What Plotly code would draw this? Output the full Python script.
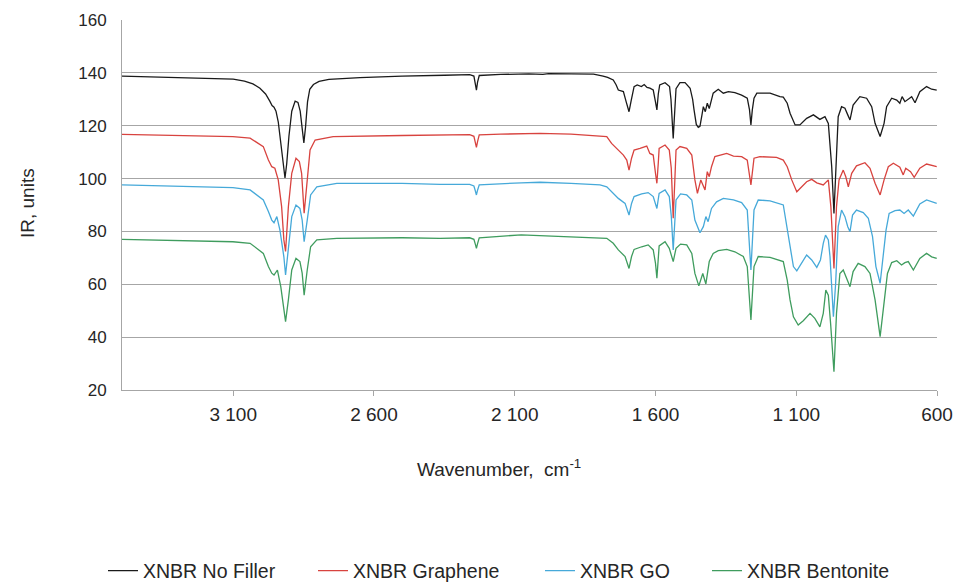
import plotly.graph_objects as go

# FTIR spectra of XNBR compounds (wavenumber in cm-1, IR in arbitrary units)
wn_nofiller = [3495, 3400, 3300, 3200, 3100, 3060, 3030, 3005, 2985, 2970, 2962, 2955, 2948, 2940,
               2932, 2924, 2916, 2910, 2902, 2892, 2880, 2870, 2862, 2855, 2849, 2843, 2836, 2828,
               2815, 2795, 2760, 2650, 2500, 2350, 2260, 2245, 2240, 2236, 2232, 2226, 2150, 2050,
               2000, 1980, 1900, 1820, 1786, 1770, 1750, 1740, 1732, 1722, 1714, 1704, 1694, 1686,
               1676, 1665, 1650, 1640, 1630, 1620, 1608, 1600, 1595, 1590, 1585, 1566, 1550, 1545,
               1540, 1537, 1534, 1527, 1513, 1495, 1477, 1468, 1463, 1455, 1448, 1442, 1435, 1430,
               1423, 1416, 1409, 1395, 1377, 1359, 1341, 1318, 1294, 1274, 1266, 1261, 1256, 1250,
               1240, 1193, 1158, 1146, 1132, 1122, 1104, 1087, 1063, 1039, 1016, 998, 986, 974,
               966, 959, 951, 939, 927, 917, 909, 898, 874, 850, 832, 820, 802, 788, 779, 761,
               743, 732, 724, 714, 702, 690, 678, 661, 637, 619, 601]
ir_nofiller = [138.8, 138.5, 138.1, 137.9, 137.6, 136.9, 135.8, 134.2, 132.0, 129.3, 127.6, 127.0, 125.5, 121.5,
               114.5, 106.0, 100.2, 105.5, 116.0, 125.5, 129.3, 128.8, 125.5, 119.0, 113.5, 119.5, 129.0, 133.8,
               135.6, 136.8, 137.5, 138.2, 138.8, 139.1, 139.3, 138.8, 136.2, 133.5, 136.5, 139.0, 139.4, 139.6,
               139.4, 139.7, 139.6, 139.5, 138.8, 138.3, 137.3, 135.5, 133.5, 133.2, 132.9, 129.0, 125.3, 129.7,
               134.8, 135.4, 134.8, 135.6, 134.5, 134.2, 133.5, 129.0, 126.0, 132.0, 135.4, 136.3, 134.8, 130.0,
               120.0, 115.2, 121.0, 134.0, 136.3, 136.3, 134.2, 130.0, 126.0, 120.5, 119.4, 119.8, 124.0, 127.2,
               125.3, 128.5, 126.5, 132.3, 133.8, 132.3, 132.9, 132.5, 131.6, 130.4, 126.0, 120.3, 126.0, 130.4,
               132.3, 132.3, 131.0, 130.8, 128.5, 124.7, 120.3, 120.3, 122.8, 124.1, 122.4, 123.4, 120.9, 104.5,
               86.8, 104.5, 123.4, 127.2, 126.6, 124.1, 122.2, 127.8, 131.0, 130.4, 127.2, 120.9, 115.9, 120.9, 127.2, 130.4,
               129.7, 128.5, 131.0, 129.1, 130.0, 131.0, 128.7, 132.9, 134.8, 133.8, 133.5]

wn_graphene = [3495, 3300, 3101, 3040, 2993, 2975, 2963, 2952, 2940, 2928, 2920, 2914, 2904, 2892,
               2877, 2865, 2857, 2848, 2837, 2827, 2809, 2745, 2500, 2330, 2260, 2245, 2240, 2236,
               2232, 2226, 2150, 2010, 1900, 1797, 1773, 1756, 1732, 1714, 1702, 1694, 1685, 1676,
               1655, 1631, 1620, 1608, 1600, 1595, 1590, 1587, 1566, 1551, 1544, 1537, 1531, 1527,
               1513, 1489, 1471, 1460, 1451, 1439, 1424, 1416, 1409, 1401, 1389, 1371, 1347, 1323,
               1294, 1274, 1261, 1250, 1229, 1170, 1146, 1132, 1116, 1098, 1081, 1063, 1045, 1027,
               1004, 986, 977, 966, 957, 948, 933, 924, 915, 903, 886, 856, 838, 820, 802, 788,
               773, 755, 732, 720, 711, 694, 681, 661, 637, 601]
ir_graphene = [116.7, 116.3, 115.9, 115.3, 112.1, 107.0, 104.5, 103.9, 99.5, 89.4, 76.8, 72.4, 89.4, 102.0,
               107.7, 106.4, 102.0, 86.9, 99.5, 110.8, 114.6, 115.9, 116.3, 116.5, 116.6, 116.0, 113.8, 111.8,
               114.0, 116.5, 116.8, 117.1, 116.8, 116.1, 115.9, 113.3, 110.8, 108.9, 107.0, 103.2, 107.7, 110.8,
               111.4, 112.3, 109.5, 108.9, 102.0, 98.2, 106.0, 111.4, 112.7, 110.8, 104.0, 85.0, 100.0, 110.8,
               112.1, 111.4, 108.9, 99.5, 94.4, 99.5, 95.7, 102.6, 100.7, 104.5, 108.3, 108.9, 109.5, 108.5,
               108.3, 107.0, 97.6, 107.7, 108.3, 108.0, 107.0, 104.5, 99.5, 95.0, 96.9, 98.8, 99.7, 98.4,
               97.6, 99.5, 89.4, 66.0, 89.4, 99.5, 103.2, 100.7, 96.9, 102.0, 104.8, 106.0, 103.9, 98.2, 93.8, 99.5,
               104.5, 105.8, 104.3, 101.4, 103.9, 102.6, 100.5, 103.9, 105.5, 104.5]

wn_go = [3495, 3300, 3101, 3040, 2993, 2975, 2963, 2955, 2945, 2934, 2920, 2914, 2904, 2892,
         2877, 2863, 2855, 2848, 2837, 2825, 2803, 2732, 2500, 2365, 2260, 2245, 2240, 2236,
         2232, 2226, 2077, 2010, 1900, 1797, 1773, 1750, 1732, 1708, 1694, 1685, 1676, 1649,
         1626, 1608, 1595, 1587, 1566, 1551, 1544, 1537, 1531, 1527, 1511, 1489, 1471, 1460,
         1442, 1430, 1421, 1413, 1401, 1383, 1359, 1323, 1294, 1274, 1261, 1250, 1235, 1193,
         1146, 1134, 1122, 1110, 1098, 1081, 1063, 1045, 1027, 1014, 1004, 996, 986, 980,
         974, 968, 960, 951, 939, 927, 917, 909, 900, 886, 862, 844, 829, 817, 802, 793,
         781, 770, 749, 732, 717, 702, 684, 661, 637, 601]
ir_go = [97.6, 97.0, 96.6, 95.7, 91.9, 87.5, 84.3, 83.3, 85.6, 80.5, 70.4, 63.5, 74.2, 85.6,
         90.0, 88.7, 84.3, 76.1, 84.3, 93.8, 96.9, 98.2, 98.2, 97.8, 97.8, 97.2, 95.4, 93.8,
         95.6, 97.6, 98.4, 98.6, 98.2, 97.6, 96.9, 94.4, 92.5, 90.6, 86.2, 90.6, 93.2, 94.2,
         94.7, 93.2, 88.7, 94.4, 95.7, 93.2, 86.0, 73.0, 85.0, 91.9, 94.2, 93.8, 91.9, 84.3,
         79.5, 81.8, 85.6, 83.7, 88.7, 91.2, 92.5, 91.9, 90.9, 88.1, 65.4, 88.1, 91.9, 91.6,
         90.0, 82.0, 74.2, 66.7, 65.1, 68.2, 71.1, 69.2, 66.4, 69.2, 75.5, 78.6, 76.8, 70.4,
         57.8, 47.7, 60.4, 81.8, 88.1, 85.6, 81.8, 79.9, 86.2, 88.1, 87.1, 85.0, 78.0, 66.7, 60.4, 69.2,
         80.5, 86.8, 87.9, 88.1, 86.8, 88.1, 85.8, 90.4, 91.9, 90.6]

wn_bentonite = [3495, 3300, 3101, 3040, 2993, 2975, 2963, 2955, 2943, 2931, 2920, 2914, 2904, 2892,
                2877, 2863, 2855, 2848, 2837, 2825, 2803, 2732, 2500, 2365, 2260, 2245, 2240, 2236,
                2232, 2226, 2077, 2010, 1900, 1797, 1773, 1750, 1732, 1708, 1694, 1685, 1676, 1649,
                1626, 1608, 1600, 1595, 1590, 1587, 1566, 1551, 1537, 1527, 1511, 1489, 1471, 1460,
                1446, 1432, 1421, 1409, 1395, 1377, 1347, 1318, 1288, 1274, 1261, 1250, 1235, 1193,
                1146, 1132, 1122, 1110, 1093, 1075, 1051, 1034, 1016, 1004, 995, 986, 978, 966,
                957, 945, 933, 921, 909, 898, 880, 856, 838, 820, 802, 791, 776, 761, 743, 726,
                714, 702, 684, 661, 637, 619, 601]
ir_bentonite = [77.0, 76.5, 76.1, 75.5, 71.7, 66.7, 64.2, 63.5, 65.4, 59.1, 51.5, 45.9, 54.1, 65.4,
                69.8, 68.6, 64.2, 55.9, 65.4, 74.2, 76.8, 77.4, 77.6, 77.4, 77.6, 77.0, 75.2, 73.6,
                75.4, 77.6, 78.7, 78.4, 78.0, 77.4, 77.4, 75.5, 73.0, 70.5, 66.0, 70.5, 73.2, 74.2,
                74.9, 73.0, 68.0, 62.3, 69.0, 74.5, 76.1, 73.6, 68.6, 73.6, 75.2, 74.9, 71.7, 64.1,
                59.4, 64.1, 60.1, 68.6, 71.7, 72.7, 73.2, 72.3, 70.5, 66.7, 46.5, 66.7, 70.5, 70.2,
                68.6, 61.6, 54.1, 47.7, 44.6, 46.2, 49.0, 47.1, 43.9, 49.0, 57.8, 55.9, 45.2, 26.9,
                49.0, 64.1, 65.4, 62.3, 59.1, 64.8, 67.9, 66.7, 64.1, 54.1, 40.2, 50.3, 64.1, 68.2, 68.9, 67.3,
                68.2, 68.6, 65.4, 69.8, 71.7, 70.4, 69.8]

series_names = ["XNBR No Filler", "XNBR Graphene", "XNBR GO", "XNBR Bentonite"]
series_colors = ["#1a1a1a", "#d8433f", "#46a9d9", "#3f9c5e"]

x_tick_values = [3100, 2600, 2100, 1600, 1100, 600]
x_tick_labels = ["3 100", "2 600", "2 100", "1 600", "1 100", "600"]

FONT = "Liberation Sans, Arial, sans-serif"
W, H = 955, 584
# per-entry legend positions (left edge of each entry, px)
legend_left_px = [103, 313, 540, 707]

fig = go.Figure()
data = [(wn_nofiller, ir_nofiller), (wn_graphene, ir_graphene),
        (wn_go, ir_go), (wn_bentonite, ir_bentonite)]
for i, ((xs, ys), name, color) in enumerate(zip(data, series_names, series_colors)):
    fig.add_trace(go.Scatter(
        x=xs, y=ys, mode="lines", name=name,
        line=dict(color=color, width=1.3),
        legend="legend" if i == 0 else f"legend{i + 1}",
    ))

legend_common = dict(
    orientation="h", xref="container", yref="container",
    xanchor="left", yanchor="middle", y=1 - 571 / H,
    font=dict(family=FONT, size=19.5, color="#262626"),
    bgcolor="rgba(0,0,0,0)", borderwidth=0,
)
legend_layouts = {}
for i, px in enumerate(legend_left_px):
    key = "legend" if i == 0 else f"legend{i + 1}"
    legend_layouts[key] = dict(legend_common, x=px / W)

fig.update_layout(
    width=W, height=H,
    margin=dict(l=122, r=18, t=20, b=194, autoexpand=False),
    paper_bgcolor="white", plot_bgcolor="white",
    showlegend=True,
    font=dict(family=FONT, color="#262626"),
    xaxis=dict(
        range=[3495, 600], tickvals=x_tick_values, ticktext=x_tick_labels,
        ticks="outside", ticklen=5, tickcolor="#a6a6a6", tickwidth=1,
        showgrid=False, zeroline=False, automargin=False,
        showline=True, linecolor="#a6a6a6", linewidth=1,
        tickfont=dict(family=FONT, size=19, color="#262626"),
        ticklabelstandoff=2,
    ),
    yaxis=dict(
        range=[20, 160], dtick=20, tick0=20, automargin=False,
        showgrid=True, gridcolor="#a6a6a6", gridwidth=1,
        zeroline=False, showline=True, linecolor="#a6a6a6", linewidth=1,
        ticks="", tickfont=dict(family=FONT, size=17, color="#262626"),
        ticklabelstandoff=11,
    ),
    annotations=[
        dict(text="Wavenumber,  cm<sup>-1</sup>", xref="paper", yref="paper",
             x=(499 - 122) / 815, y=(390 - 468) / 370, xanchor="center", yanchor="middle",
             showarrow=False, font=dict(family=FONT, size=19, color="#262626")),
        dict(text="IR, units", xref="paper", yref="paper", textangle=-90,
             x=(27 - 122) / 815, y=(390 - 203) / 370, xanchor="center", yanchor="middle",
             showarrow=False, font=dict(family=FONT, size=19, color="#262626")),
    ],
    **legend_layouts,
)

fig.write_html("out.html")
